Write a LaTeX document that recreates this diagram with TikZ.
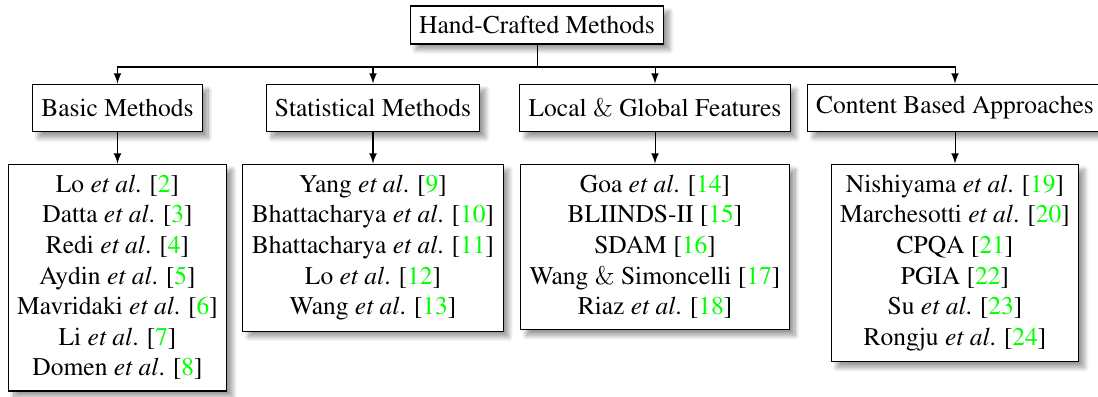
\documentclass[tikz,border=0pt]{standalone}
\usepackage[T1]{fontenc}
\usepackage{mathptmx}
\usepackage{tikz}
\usetikzlibrary{positioning,shadows.blur,arrows}
\tikzstyle{root}=[rectangle,draw=black,fill=white,minimum height=14.9pt,inner xsep=3.4pt,blur shadow={shadow blur steps = 15}]
\tikzstyle{cat}=[rectangle,draw=black,fill=white,minimum height=18.8pt,inner xsep=3.4pt,blur shadow={shadow blur steps = 15}]
\tikzstyle{lst}=[rectangle,draw=black,fill=white,align=center,inner xsep=3.5pt,inner ysep=4.3pt,blur shadow={shadow blur steps = 15}]
\newcommand{\gcite}[1]{[\textcolor{green}{#1}]}
\newcommand{\etal}{\textit{et al}.}
\newcommand{\cmamp}{{\fontencoding{OT1}\fontfamily{cmr}\selectfont\&}}

\begin{document}
\begin{tikzpicture}[x=0.3922pt,y=0.3922pt]
    \useasboundingbox (0,0) rectangle (1098,-396);
    \node (hcm) [root] at (537,-25) {Hand-Crafted Methods};
    \node (basic) [cat] at (117.5,-108) {Basic Methods};
    \node (stat) [cat] at (373,-108) {Statistical Methods};
    \node (locglob) [cat] at (655,-108) {Local \cmamp{} Global Features};
    \node (content) [cat] at (955,-108) {Content Based Approaches};

    \node (basicl) [lst,below=12.2pt of basic] {Lo \etal{} \gcite{2}\\ Datta \etal{} \gcite{3}\\ Redi \etal{} \gcite{4}\\ Aydin \etal{} \gcite{5}\\ Mavridaki \etal{} \gcite{6}\\ Li \etal{} \gcite{7}\\ Domen \etal{} \gcite{8}};
    \node (statl) [lst,below=12.2pt of stat] {Yang \etal{} \gcite{9}\\ Bhattacharya \etal{} \gcite{10}\\ Bhattacharya \etal{} \gcite{11}\\ Lo \etal{} \gcite{12}\\ Wang \etal{} \gcite{13}};
    \node (locglobl) [lst,below=12.2pt of locglob] {Goa \etal{} \gcite{14}\\ BLIINDS-II \gcite{15}\\ SDAM \gcite{16}\\ Wang \cmamp{} Simoncelli \gcite{17}\\ Riaz \etal{} \gcite{18}};
    \node (contentl) [lst,below=12.2pt of content] {Nishiyama \etal{} \gcite{19}\\ Marchesotti \etal{} \gcite{20}\\ CPQA \gcite{21}\\ PGIA \gcite{22}\\ Su \etal{} \gcite{23}\\ Rongju \etal{} \gcite{24}};

    \coordinate (split) at (537,-67);
    \draw (hcm) -- (split);
    \draw[-latex] (split) -| (basic);
    \draw[-latex] (split) -| (stat);
    \draw[-latex] (split) -| (locglob);
    \draw[-latex] (split) -| (content);
    \draw[-latex] (basic) -- (basicl);
    \draw[-latex] (stat) -- (statl);
    \draw[-latex] (locglob) -- (locglobl);
    \draw[-latex] (content) -- (contentl);
\end{tikzpicture}
\end{document}
